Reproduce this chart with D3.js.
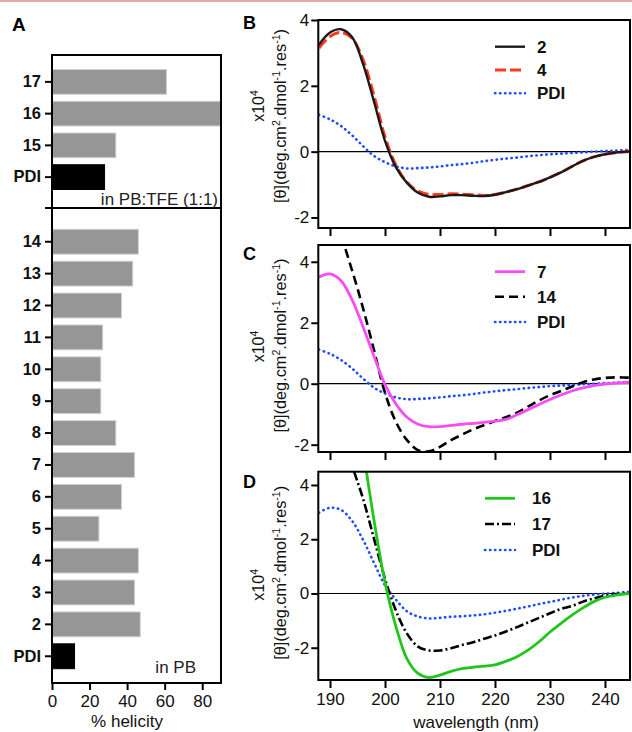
<!DOCTYPE html>
<html>
<head>
<meta charset="utf-8">
<script src="https://cdn.jsdelivr.net/npm/d3@7"></script>
<style>
  html, body { margin: 0; padding: 0; background: #fff; }
  svg { display: block; font-family: "Liberation Sans", Arial, sans-serif; }
</style>
</head>
<body>
<div id="chart"></div>
<script>
// panel A: % helicity
const tfeCats = ['17', '16', '15', 'PDI'];
const tfeHelicity = [61, 92, 34, 28];
const pbCats = ['14', '13', '12', '11', '10', '9', '8', '7', '6', '5', '4', '3', '2', 'PDI'];
const pbHelicity = [46, 43, 37, 27, 26, 26, 34, 44, 37, 25, 46, 44, 47, 12];
const helicityTicks = [0, 20, 40, 60, 80];

// panels B-D: CD spectra, [θ] x10^4
const wavelength = [188, 190, 192, 194, 196, 198, 200, 202, 204, 206, 208, 210, 212, 214, 216,
  218, 220, 222, 224, 226, 228, 230, 232, 234, 236, 238, 240, 242, 244, 245];
const cd2 = [3.25, 3.62, 3.72, 3.48, 2.67, 1.52, 0.33, -0.48, -0.95, -1.25, -1.37, -1.36, -1.32, -1.32, -1.34,
  -1.35, -1.31, -1.23, -1.14, -1.03, -0.92, -0.78, -0.63, -0.45, -0.28, -0.16, -0.08, -0.03, 0, 0.01];
const cd4 = [3.15, 3.5, 3.62, 3.45, 2.8, 1.7, 0.45, -0.42, -0.93, -1.2, -1.3, -1.3, -1.28, -1.29, -1.31,
  -1.33, -1.3, -1.23, -1.14, -1.03, -0.92, -0.78, -0.63, -0.45, -0.28, -0.16, -0.08, -0.03, 0, 0.01];
const pdiPB = [1.12, 0.98, 0.78, 0.5, 0.17, -0.13, -0.32, -0.45, -0.51, -0.5, -0.48, -0.45, -0.41, -0.38, -0.34,
  -0.29, -0.25, -0.21, -0.18, -0.14, -0.11, -0.08, -0.06, -0.04, -0.02, 0, 0.02, 0.03, 0.05, 0.05];
const cd7 = [3.5, 3.6, 3.38, 2.76, 1.87, 0.9, -0.03, -0.67, -1.1, -1.33, -1.41, -1.41, -1.37, -1.33, -1.3,
  -1.27, -1.23, -1.17, -1.02, -0.85, -0.68, -0.52, -0.37, -0.24, -0.14, -0.06, -0.01, 0.02, 0.04, 0.05];
const cd14 = [5.0, 5.2, 4.75, 3.72, 2.48, 1.1, -0.3, -1.26, -1.85, -2.18, -2.22, -2.07, -1.85, -1.67, -1.5,
  -1.36, -1.22, -1.1, -0.95, -0.75, -0.55, -0.38, -0.24, -0.09, 0.05, 0.14, 0.19, 0.21, 0.2, 0.2];
const cd16 = [9.0, 9.5, 9.2, 7.8, 5.3, 2.7, 0.41, -1.23, -2.41, -2.95, -3.1, -3.01, -2.87, -2.77, -2.72,
  -2.68, -2.63, -2.5, -2.33, -2.09, -1.78, -1.42, -1.1, -0.8, -0.53, -0.3, -0.14, -0.06, -0.01, 0];
const cd17 = [8.0, 7.3, 6.1, 4.73, 3.5, 2.02, 0.54, -0.64, -1.48, -1.96, -2.1, -2.1, -2.02, -1.9, -1.8,
  -1.67, -1.55, -1.4, -1.24, -1.07, -0.9, -0.73, -0.57, -0.46, -0.3, -0.18, -0.08, -0.02, 0, 0];
const pdiTFE = [2.98, 3.16, 3.08, 2.68, 1.98, 1.13, 0.3, -0.23, -0.66, -0.85, -0.92, -0.9, -0.86, -0.84, -0.81,
  -0.77, -0.71, -0.64, -0.56, -0.48, -0.39, -0.31, -0.23, -0.15, -0.09, -0.04, -0.01, 0.02, 0.05, 0.06];
const wavelengthTicks = [190, 200, 210, 220, 230, 240];
const thetaTicks = [-2, 0, 2, 4];

const width = 632;
const height = 732;
const font = '"Liberation Sans", Arial, sans-serif';
const DOTS = '0.4,4.6';

const svg = d3.select('#chart')
  .append('svg')
  .attr('width', width)
  .attr('height', height);

// thin pink rule along the top edge
svg.append('rect').attr('x', 0).attr('y', 0).attr('width', width).attr('height', 2).style('fill', '#e4aaaa');

// ---------- panel A ----------
const ax = { left: 52, right: 221, top: 55, split: 208, bottom: 683 };
const xHel = d3.scaleLinear().domain([0, 90]).range([ax.left, ax.right]);
const yTfe = d3.scaleBand().domain(tfeCats).range([66, 193]).paddingInner(0.22).paddingOuter(0.11);
const yPb = d3.scaleBand().domain(pbCats).range([225.8, 672.2]).paddingInner(0.22).paddingOuter(0.11);

const gA = svg.append('g');

const drawBars = (cats, vals, yScale) => {
  gA.append('g')
    .selectAll('rect')
    .data(cats.map((c, i) => ({ cat: c, val: Math.min(vals[i], 90) })))
    .enter()
    .append('rect')
    .attr('x', xHel(0))
    .attr('y', (d) => yScale(d.cat))
    .attr('width', (d) => xHel(d.val) - xHel(0))
    .attr('height', yScale.bandwidth())
    .style('fill', (d) => (d.cat === 'PDI' ? '#000' : '#969696'))
    .style('stroke', (d) => (d.cat === 'PDI' ? '#000' : '#d2d2d2'))
    .style('stroke-width', '1px');

  const axis = gA.append('g')
    .attr('transform', `translate(${ax.left},0)`)
    .call(d3.axisLeft(yScale).tickSize(7).tickPadding(4));
  axis.select('.domain').remove();
  axis.selectAll('line').style('stroke', '#000').style('stroke-width', '2px');
  axis.selectAll('text').style('font-family', font).style('font-size', '16.5px').style('font-weight', 'bold').style('fill', '#111');
};

drawBars(tfeCats, tfeHelicity, yTfe);
drawBars(pbCats, pbHelicity, yPb);

// frame and divider
gA.append('path')
  .attr('d', `M${ax.left},${ax.top}H${ax.right}V${ax.bottom}H${ax.left}Z M${ax.left - 7},${ax.split}H${ax.right}`)
  .style('fill', 'none')
  .style('stroke', '#000')
  .style('stroke-width', '2px');

const axA = gA.append('g')
  .attr('transform', `translate(0,${ax.bottom})`)
  .call(d3.axisBottom(xHel).tickValues(helicityTicks).tickSize(7).tickPadding(5));
axA.select('.domain').remove();
axA.selectAll('line').style('stroke', '#000').style('stroke-width', '2px');
axA.selectAll('text').style('font-family', font).style('font-size', '17px').style('fill', '#111');

gA.append('text').attr('x', 127).attr('y', 727).attr('text-anchor', 'middle')
  .style('font-size', '17px').style('fill', '#111').text('% helicity');
gA.append('text').attr('x', 218).attr('y', 205).attr('text-anchor', 'end')
  .style('font-size', '17px').style('fill', '#222').text('in PB:TFE (1:1)');
gA.append('text').attr('x', 196).attr('y', 673).attr('text-anchor', 'end')
  .style('font-size', '17px').style('fill', '#222').text('in PB');
gA.append('text').attr('x', 12).attr('y', 31)
  .style('font-size', '19px').style('font-weight', 'bold').text('A');

// ---------- panels B-D ----------
const px = { left: 318.3, right: 630 };
const xWl = d3.scaleLinear().domain([187.87, 244.55]).range([px.left, px.right]);

const panels = [
  {
    letter: 'B', top: 20, bottom: 228, domain: [-2.32, 4], letterY: 29, labelShift: -8, x10Shift: -18,
    legend: { x0: 495, x1: 525, tx: 537, ys: [46.7, 70, 93.3] },
    series: [
      { name: '2', values: cd2, color: '#1a1a1a', dash: null, w: 2.4 },
      { name: '4', values: cd4, color: '#ff3a1c', dash: '11,4', w: 3 },
      { name: 'PDI', values: pdiPB, color: '#1f4cff', dash: DOTS, w: 2.6 }
    ]
  },
  {
    letter: 'C', top: 245, bottom: 452, domain: [-2.24, 4.55], letterY: 260, labelShift: -3, x10Shift: -2,
    legend: { x0: 495, x1: 525, tx: 537, ys: [271.7, 296.7, 322] },
    series: [
      { name: '7', values: cd7, color: '#f54ef5', dash: null, w: 2.8 },
      { name: '14', values: cd14, color: '#000', dash: '9,5', w: 2.6 },
      { name: 'PDI', values: pdiPB, color: '#1f4cff', dash: DOTS, w: 2.6 }
    ]
  },
  {
    letter: 'D', top: 471.7, bottom: 680, domain: [-3.19, 4.49], letterY: 488, labelShift: -3, x10Shift: 9,
    legend: { x0: 485, x1: 515, tx: 532, ys: [498.3, 524, 550] },
    series: [
      { name: '16', values: cd16, color: '#22c51c', dash: null, w: 2.8 },
      { name: '17', values: cd17, color: '#000', dash: '9,3,2,3', w: 2.6 },
      { name: 'PDI', values: pdiTFE, color: '#1f4cff', dash: DOTS, w: 2.6 }
    ],
    xLabels: true
  }
];

const labelParts = [['[θ](deg.cm', 0], ['2', 1], ['.dmol', 0], ['-1', 1], ['.res', 0], ['-1', 1], [')', 0]];

const addRotated = (g, x, y, parts, size) => {
  const t = g.append('text')
    .attr('transform', `translate(${x},${y}) rotate(-90)`)
    .attr('text-anchor', 'middle')
    .style('font-size', `${size}px`)
    .style('fill', '#111');
  let raised = false;
  parts.forEach(([s, sup]) => {
    const span = t.append('tspan').text(s);
    if (sup && !raised) { span.attr('dy', -6).style('font-size', `${size * 0.65}px`); raised = true; }
    else if (sup) { span.style('font-size', `${size * 0.65}px`); }
    else if (raised) { span.attr('dy', 6); raised = false; }
  });
};

panels.forEach((p, pi) => {
  const y = d3.scaleLinear().domain(p.domain).range([p.bottom, p.top]);
  const g = svg.append('g');
  const clipId = `clip-${pi}`;

  svg.append('clipPath').attr('id', clipId)
    .append('rect')
    .attr('x', px.left).attr('y', p.top)
    .attr('width', px.right - px.left).attr('height', p.bottom - p.top);

  // zero line
  g.append('line')
    .attr('x1', px.left).attr('x2', px.right)
    .attr('y1', y(0)).attr('y2', y(0))
    .style('stroke', '#000').style('stroke-width', '1.2px');

  const line = d3.line()
    .x((d) => xWl(d[0]))
    .y((d) => y(d[1]))
    .curve(d3.curveCatmullRom.alpha(0.5));

  // draw PDI first so the other curves sit on top
  [...p.series].reverse().forEach((s) => {
    g.append('path')
      .datum(wavelength.map((w, i) => [w, s.values[i]]))
      .attr('d', line)
      .attr('clip-path', `url(#${clipId})`)
      .style('fill', 'none')
      .style('stroke', s.color)
      .style('stroke-width', `${s.w}px`)
      .style('stroke-dasharray', s.dash)
      .style('stroke-linecap', s.dash === DOTS ? 'round' : 'butt');
  });

  // frame
  g.append('rect')
    .attr('x', px.left).attr('y', p.top)
    .attr('width', px.right - px.left).attr('height', p.bottom - p.top)
    .style('fill', 'none').style('stroke', '#000').style('stroke-width', '2px');

  const yAxis = g.append('g')
    .attr('transform', `translate(${px.left},0)`)
    .call(d3.axisLeft(y).tickValues(thetaTicks).tickSize(7).tickPadding(2).tickFormat((d) => String(d)));
  yAxis.select('.domain').remove();
  yAxis.selectAll('line').style('stroke', '#000').style('stroke-width', '2px');
  yAxis.selectAll('text').style('font-family', font).style('font-size', '17px').style('fill', '#111');

  const xAxis = g.append('g')
    .attr('transform', `translate(0,${p.bottom})`)
    .call(d3.axisBottom(xWl).tickValues(wavelengthTicks).tickSize(8).tickPadding(5)
      .tickFormat(p.xLabels ? (d) => String(d) : ''));
  xAxis.select('.domain').remove();
  xAxis.selectAll('line').style('stroke', '#000').style('stroke-width', '2px');
  xAxis.selectAll('text').style('font-family', font).style('font-size', '17px').style('fill', '#111');

  // legend
  p.series.forEach((s, i) => {
    const ly = p.legend.ys[i];
    g.append('line')
      .attr('x1', p.legend.x0).attr('x2', p.legend.x1)
      .attr('y1', ly).attr('y2', ly)
      .style('stroke', s.color)
      .style('stroke-width', `${s.w}px`)
      .style('stroke-dasharray', s.dash)
      .style('stroke-linecap', s.dash === DOTS ? 'round' : 'butt');
    g.append('text')
      .attr('x', p.legend.tx).attr('y', ly).attr('dy', '0.36em')
      .style('font-size', '17px').style('font-weight', 'bold').style('fill', '#111')
      .text(s.name);
  });

  const mid = (p.top + p.bottom) / 2;
  addRotated(g, 264, mid + p.x10Shift, [['x10', 0], ['4', 1]], 16);
  addRotated(g, 286, mid + p.labelShift, labelParts, 16.3);

  g.append('text').attr('x', 243).attr('y', p.letterY)
    .style('font-size', '18px').style('font-weight', 'bold').text(p.letter);
});

svg.append('text').attr('x', 476).attr('y', 728).attr('text-anchor', 'middle')
  .style('font-size', '17px').style('fill', '#111').text('wavelength (nm)');
</script>
</body>
</html>
